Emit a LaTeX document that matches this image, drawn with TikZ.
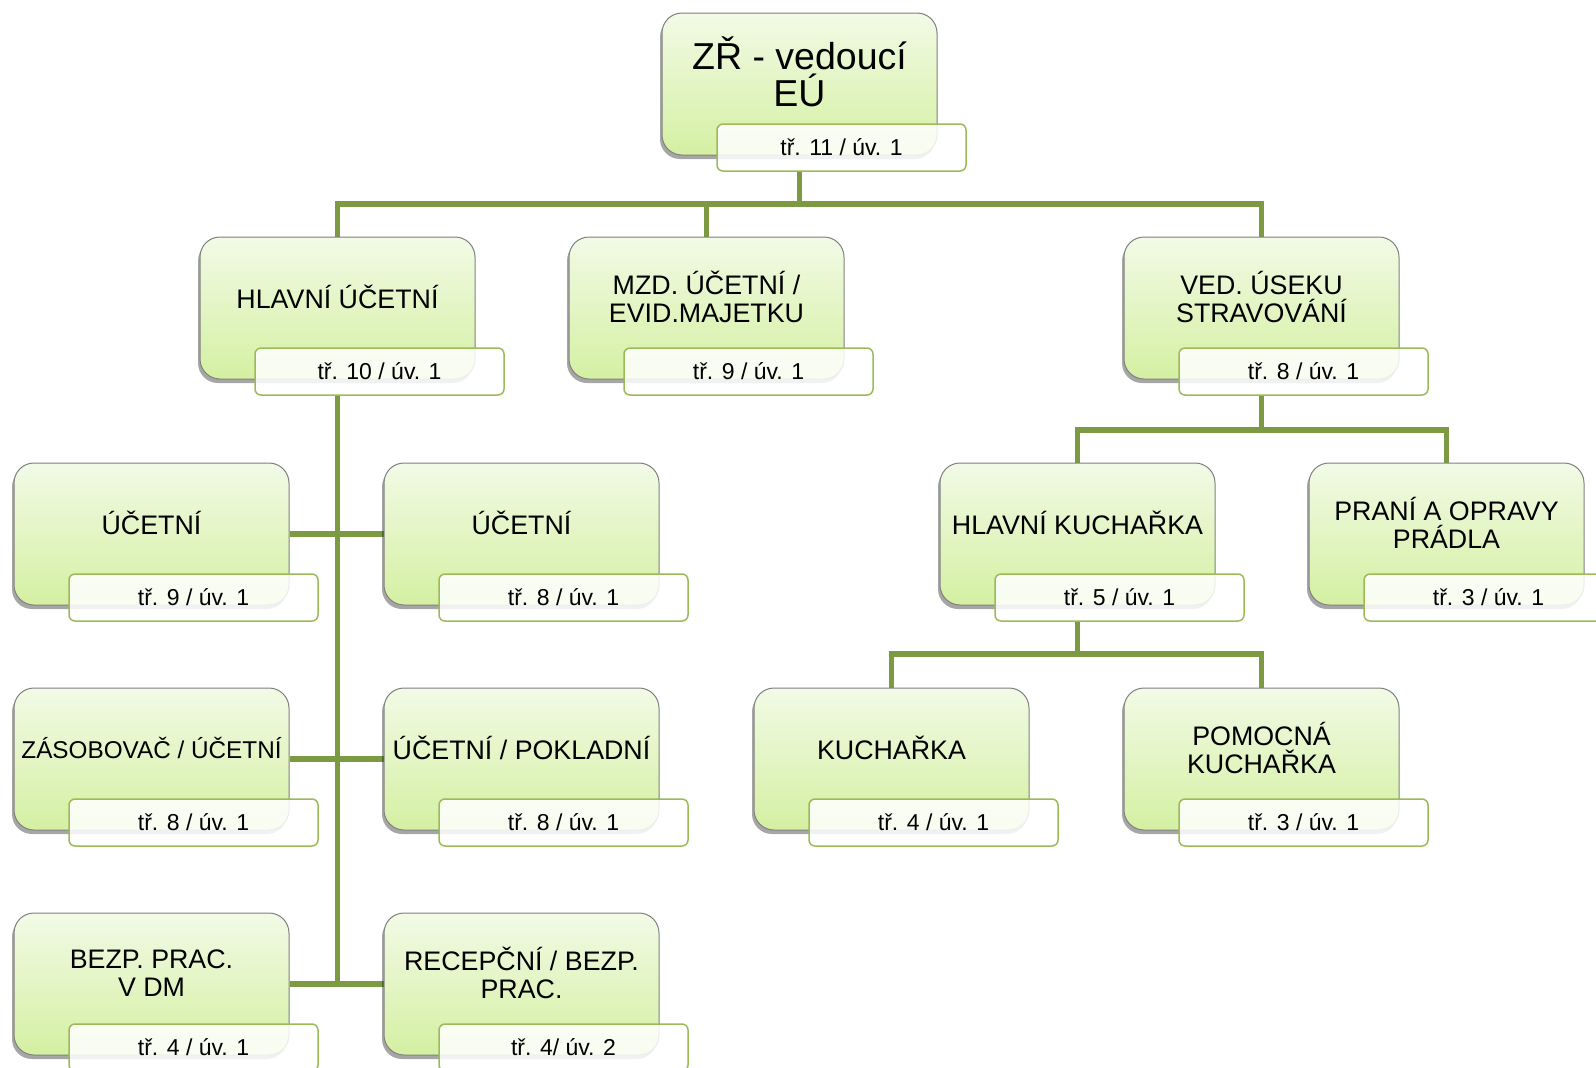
\documentclass[tikz,border=0pt]{standalone}
\usepackage{fontspec}
\setmainfont{Liberation Sans}
\usetikzlibrary{shadows,backgrounds}
\definecolor{linegreen}{HTML}{7C9A42}
\definecolor{labgreen}{HTML}{9BBB59}
\definecolor{boxgray}{HTML}{808080}
\definecolor{boxtop}{HTML}{F2FAE6}
\definecolor{boxbot}{HTML}{D4F0A2}
\tikzset{
 conn/.style={draw=linegreen, line width=5.5pt},
 obox/.style={draw=boxgray, line width=1pt, rounded corners=20pt, minimum width=275pt, minimum height=142pt, top color=boxtop, bottom color=boxbot, drop shadow={shadow xshift=-2pt, shadow yshift=-4pt, opacity=0.35, fill=black}, inner sep=0pt},
 otext/.style={align=center, font=\fontsize{26.8}{27.5}\selectfont, inner sep=0pt},
 osmall/.style={font=\fontsize{24.3}{27}\selectfont},
 olab/.style={draw=labgreen, line width=1.5pt, rounded corners=6pt, fill=white, fill opacity=0.85, text opacity=1, minimum width=249pt, minimum height=47pt, inner sep=0pt, font=\fontsize{23}{24}\selectfont},
}
\newcommand{\orgbox}[6][]{%
 \node[obox] (#2) at ({#3+137.5},{#4+71}) {};
 \node[otext,#1] (#2t) at ({#3+137.5},{#4+60}) {#5};
 \node[olab] (#2l) at ({#3+179.5},{#4+134.5}) {#6};
}
\begin{document}
\begin{tikzpicture}[x=1pt,y=-1pt]
\useasboundingbox (0,0) rectangle (1596,1068);
\clip (0,0) rectangle (1596,1068);
% top node
\node[obox] (zr) at ({662+137.5},{13+71}) {};
\node[otext, font=\fontsize{37.5}{37}\selectfont] (zrt) at ({662+137.5},{13+59}) {ZŘ - vedoucí\\EÚ};
\node[olab] (zrl) at ({662+179.5},{13+134.5}) {tř. 11 / úv. 1};
% level 2
\orgbox{hu}{200}{237}{HLAVNÍ ÚČETNÍ}{tř. 10 / úv. 1}
\orgbox{mzd}{569}{237}{MZD. ÚČETNÍ /\\EVID.MAJETKU}{tř. 9 / úv. 1}
\orgbox{ved}{1124}{237}{VED. ÚSEKU\\STRAVOVÁNÍ}{tř. 8 / úv. 1}
% level 3
\orgbox{ua}{14}{463}{ÚČETNÍ}{tř. 9 / úv. 1}
\orgbox{ub}{384}{463}{ÚČETNÍ}{tř. 8 / úv. 1}
\orgbox{hk}{940}{463}{HLAVNÍ KUCHAŘKA}{tř. 5 / úv. 1}
\orgbox{pr}{1309}{463}{PRANÍ A OPRAVY\\PRÁDLA}{tř. 3 / úv. 1}
% level 4
\orgbox[osmall]{zas}{14}{688}{ZÁSOBOVAČ / ÚČETNÍ}{tř. 8 / úv. 1}
\orgbox{up}{384}{688}{ÚČETNÍ / POKLADNÍ}{tř. 8 / úv. 1}
\orgbox{ku}{754}{688}{KUCHAŘKA}{tř. 4 / úv. 1}
\orgbox{pk}{1124}{688}{POMOCNÁ\\KUCHAŘKA}{tř. 3 / úv. 1}
% level 5
\orgbox{bz}{14}{913}{BEZP. PRAC.\\V DM}{tř. 4 / úv. 1}
\orgbox{rc}{384}{913}{RECEPČNÍ / BEZP.\\PRAC.}{tř. 4/ úv. 2}
% connectors
\begin{pgfonlayer}{background}
\coordinate (b1) at (799.5,204);
\coordinate (b2) at (1261.5,430);
\coordinate (b3) at (1077.5,654);
\draw[conn] (zr.center |- zrl.south) -- (b1);
\draw[conn] (hu.north) |- (b1) -| (ved.north);
\draw[conn] (mzd.north) -- (mzd.north |- b1);
\draw[conn] (hu.center |- hul.south) -- (hu.center |- bz.east);
\draw[conn] (ua.east) -- (ub.west);
\draw[conn] (zas.east) -- (up.west);
\draw[conn] (bz.east) -- (rc.west);
\draw[conn] (ved.center |- vedl.south) -- (b2);
\draw[conn] (hk.north) |- (b2) -| (pr.north);
\draw[conn] (hk.center |- hkl.south) -- (b3);
\draw[conn] (ku.north) |- (b3) -| (pk.north);
\end{pgfonlayer}
\end{tikzpicture}
\end{document}
